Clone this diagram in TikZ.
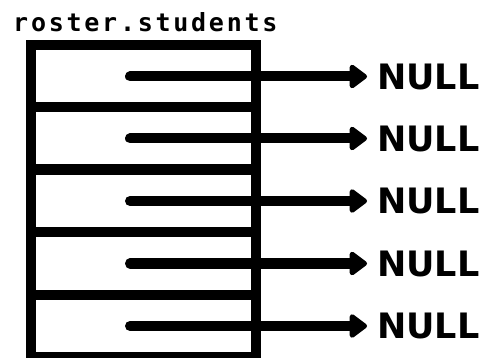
\documentclass[tikz,border=0pt]{standalone}
\usepackage{fontspec}
\newfontfamily\rosterfont[LetterSpace=11]{DejaVu Sans Mono Bold}
\newfontfamily\nulllabelfont{DejaVu Sans Bold}
\usetikzlibrary{arrows.meta}
\begin{document}
\begin{tikzpicture}[x=1pt,y=-1pt,
  cellbox/.style={draw=black,line width=10pt,minimum width=224.5pt,minimum height=62pt,inner sep=0pt,outer sep=0pt},
  nulltext/.style={font=\nulllabelfont\fontsize{35}{35}\selectfont,inner sep=0pt,anchor=west},
  ptr/.style={line width=10pt,line cap=round,-{Triangle[length=19pt,width=27pt,round]},shorten >=10pt}
]
\useasboundingbox (0,0) rectangle (482,358);
\node[anchor=base west,inner sep=0pt,font=\rosterfont\fontsize{25}{25}\selectfont] (title) at (13,32) {roster.students};
\foreach \i/\y in {1/76.5,2/138.5,3/201,4/263.5,5/326}{
  \node[cellbox] (c\i) at (143.25,\y) {};
  \coordinate (s\i) at (130,\y);
  \node[nulltext] (n\i) at (377,\y) {NULL};
  \draw[ptr] (s\i) -- (n\i.west);
}
\end{tikzpicture}
\end{document}
